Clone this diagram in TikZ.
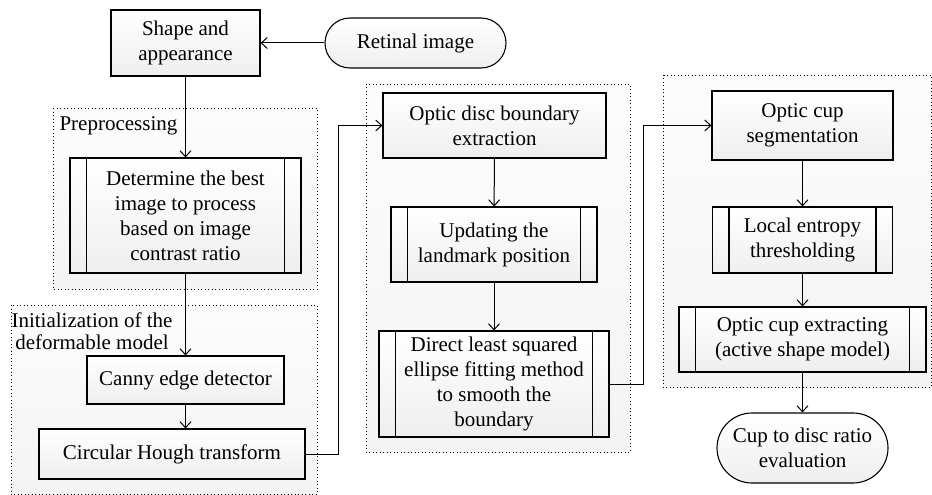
\documentclass[tikz,border=0pt]{standalone}
\usepackage{fontspec}
\setmainfont{Liberation Serif}
\usetikzlibrary{arrows.meta}
\tikzset{
  box/.style={draw, line width=1.1pt, top color=white, bottom color=gray!13, align=center, inner sep=0pt},
  subbox/.style={box, path picture={
      \draw[line width=1.1pt] ([xshift=16.5pt]path picture bounding box.north west) -- ([xshift=16.5pt]path picture bounding box.south west);
      \draw[line width=1.1pt] ([xshift=-16.5pt]path picture bounding box.north east) -- ([xshift=-16.5pt]path picture bounding box.south east);}},
  terminal/.style={box, rounded corners=#1},
  region/.style={line width=0.9pt, dash pattern=on 0.9pt off 2.6pt, top color=gray!2, bottom color=gray!9},
  flow/.style={line width=1pt, -{Straight Barb[length=6pt,width=11pt]}},
}
\begin{document}
\begin{tikzpicture}[x=1pt, y=-1pt, font=\fontsize{21}{25}\selectfont]
                    \useasboundingbox (0,0) rectangle (932,495);

                    % Drawing the dotted regions
                    \draw [region] (53,108) rectangle (317,289);%
                    \draw [region] (11,305) rectangle (317,494);%
                    \draw [region] (366,84) rectangle (630,452);%
                    \draw [region] (663,75) rectangle (931,387);%
                    \node [anchor=west] (lprep) at (56,126) {Preprocessing};%
                    \node [align=center, anchor=west] (linit) at (8,331) {Initialization of the\\[-3.5pt]deformable model};%

                    % Drawing the first column
                    \node [box, minimum width=149, minimum height=66] (shape) at (185.5,43) {Shape and\\appearance};%
                    \node [terminal=25, minimum width=181, minimum height=50] (retina) at (415.5,43) {Retinal image};%
                    \node [subbox, minimum width=231, minimum height=115] (best) at (185.5,215.5) {Determine the best\\image to process\\based on image\\contrast ratio};%
                    \node [box, minimum width=197, minimum height=48] (canny) at (185.5,380) {Canny edge detector};%
                    \node [box, minimum width=266, minimum height=50] (hough) at (172,454) {Circular Hough transform};%

                    % Drawing the second column
                    \node [box, minimum width=223, minimum height=65] (disc) at (494.5,125.5) {Optic disc boundary\\extraction};%
                    \node [subbox, minimum width=206, minimum height=75] (landmark) at (494,244.5) {Updating the\\landmark position};%
                    \node [subbox, minimum width=230, minimum height=106] (ellipse) at (494,384) {Direct least squared\\ellipse fitting method\\to smooth the\\boundary};%

                    % Drawing the third column
                    \node [box, minimum width=181, minimum height=69] (cup) at (802.5,125.5) {Optic cup\\segmentation};%
                    \node [subbox, minimum width=180, minimum height=66] (entropy) at (802.5,240) {Local entropy\\thresholding};%
                    \node [subbox, minimum width=247, minimum height=65] (asm) at (802.5,339.5) {Optic cup extracting\\(active shape model)};%
                    \node [terminal=35, minimum width=171, minimum height=70] (ratio) at (802.5,448) {Cup to disc ratio\\evaluation};%

                    % Drawing the connectors
                    \draw [flow] (retina) -- (shape);%
                    \draw [flow] (shape) -- (best);%
                    \draw [flow] (best) -- (canny);%
                    \draw [flow] (canny.south -| best.south) -- (canny.south |- hough.north);%
                    \draw [flow] (hough.east) -- ++(33,0) |- (disc.west);%
                    \draw [flow] (disc) -- (landmark);%
                    \draw [flow] (landmark) -- (ellipse);%
                    \draw [flow] (ellipse.east) -- ++(34,0) |- (cup.west);%
                    \draw [flow] (cup) -- (entropy);%
                    \draw [flow] (entropy) -- (asm);%
                    \draw [flow] (asm) -- (ratio);%
\end{tikzpicture}
\end{document}
